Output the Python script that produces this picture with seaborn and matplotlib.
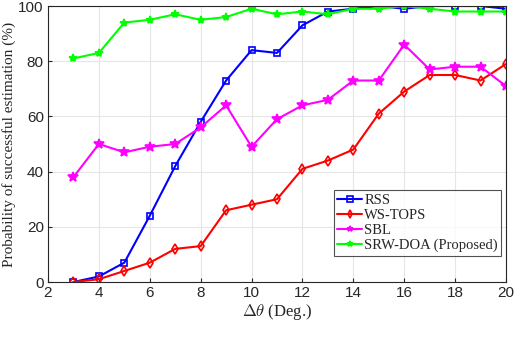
import numpy as np
import pandas as pd
import matplotlib
matplotlib.use("Agg")
import matplotlib.pyplot as plt
import seaborn as sns

# ===============================
# DATA
# ===============================
delta_theta = [3, 4, 5, 6, 7, 8, 9, 10, 11, 12, 13, 14, 15, 16, 17, 18, 19, 20]
rss = [0, 2, 7, 24, 42, 58, 73, 84, 83, 93, 98, 99, 100, 99, 100, 100, 100, 99]
ws_tops = [0, 1, 4, 7, 12, 13, 26, 28, 30, 41, 44, 48, 61, 69, 75, 75, 73, 79]
sbl = [38, 50, 47, 49, 50, 56, 64, 49, 59, 64, 66, 73, 73, 86, 77, 78, 78, 71]
srw_doa = [81, 83, 94, 95, 97, 95, 96, 99, 97, 98, 97, 99, 99, 100, 99, 98, 98, 98]

methods = ["RSS", "WS-TOPS", "SBL", "SRW-DOA (Proposed)"]
colors = ["#0000ff", "#ff0000", "#ff00ff", "#00ff00"]
markers = ["s", "d", "*", "*"]

df = pd.DataFrame({
    "dtheta": delta_theta * 4,
    "prob": rss + ws_tops + sbl + srw_doa,
    "method": sum([[m] * len(delta_theta) for m in methods], []),
})

# ===============================
# PLOT
# ===============================
sns.set_style("whitegrid")
plt.rcParams["font.family"] = ["Liberation Sans", "DejaVu Sans"]
plt.rcParams["mathtext.fontset"] = "cm"

fig = plt.figure(figsize=(5.14, 3.6), dpi=100)
ax = fig.add_axes([48 / 514, 1 - 282 / 360, 458 / 514, 276 / 360])

for m, c, mk in zip(methods, colors, markers):
    sub = df[df["method"] == m]
    ms = 7 if m == "SBL" else (6 if m.startswith("SRW") else 5)
    sns.lineplot(data=sub, x="dtheta", y="prob", ax=ax, color=c, marker=mk,
                 markersize=ms, markerfacecolor="none" if mk in ("s", "d") else c,
                 markeredgecolor=c, markeredgewidth=1.2, linewidth=1.5,
                 label=m)

ax.set_xlim(2, 20)
ax.set_ylim(0, 100)
ax.set_xticks(range(2, 21, 2))
ax.set_yticks(range(0, 101, 20))
ax.tick_params(labelsize=11, colors="#262626", length=3, direction="in",
               bottom=True, left=True, pad=3)
ax.grid(True, color="#e6e6e6", linewidth=0.8)
for s in ax.spines.values():
    s.set_color("#262626")
    s.set_linewidth(0.8)

ax.set_xlabel(r"$\Delta\theta$ (Deg.)", family="Liberation Serif", fontsize=12,
              labelpad=1)
ax.set_ylabel("Probability of successful estimation (%)",
              family="Liberation Serif", fontsize=11, labelpad=2)

leg = ax.legend(loc="lower right", bbox_to_anchor=(0.99, 0.095),
                prop={"family": "Liberation Serif", "size": 10.5},
                frameon=True, fancybox=False, edgecolor="#262626",
                borderpad=0.25, labelspacing=0.12, handlelength=1.7,
                handletextpad=0.15, borderaxespad=0)
leg.get_frame().set_linewidth(0.8)
for h in leg.legend_handles:
    h.set_markersize(4)

plt.savefig("out.png", dpi=100)
